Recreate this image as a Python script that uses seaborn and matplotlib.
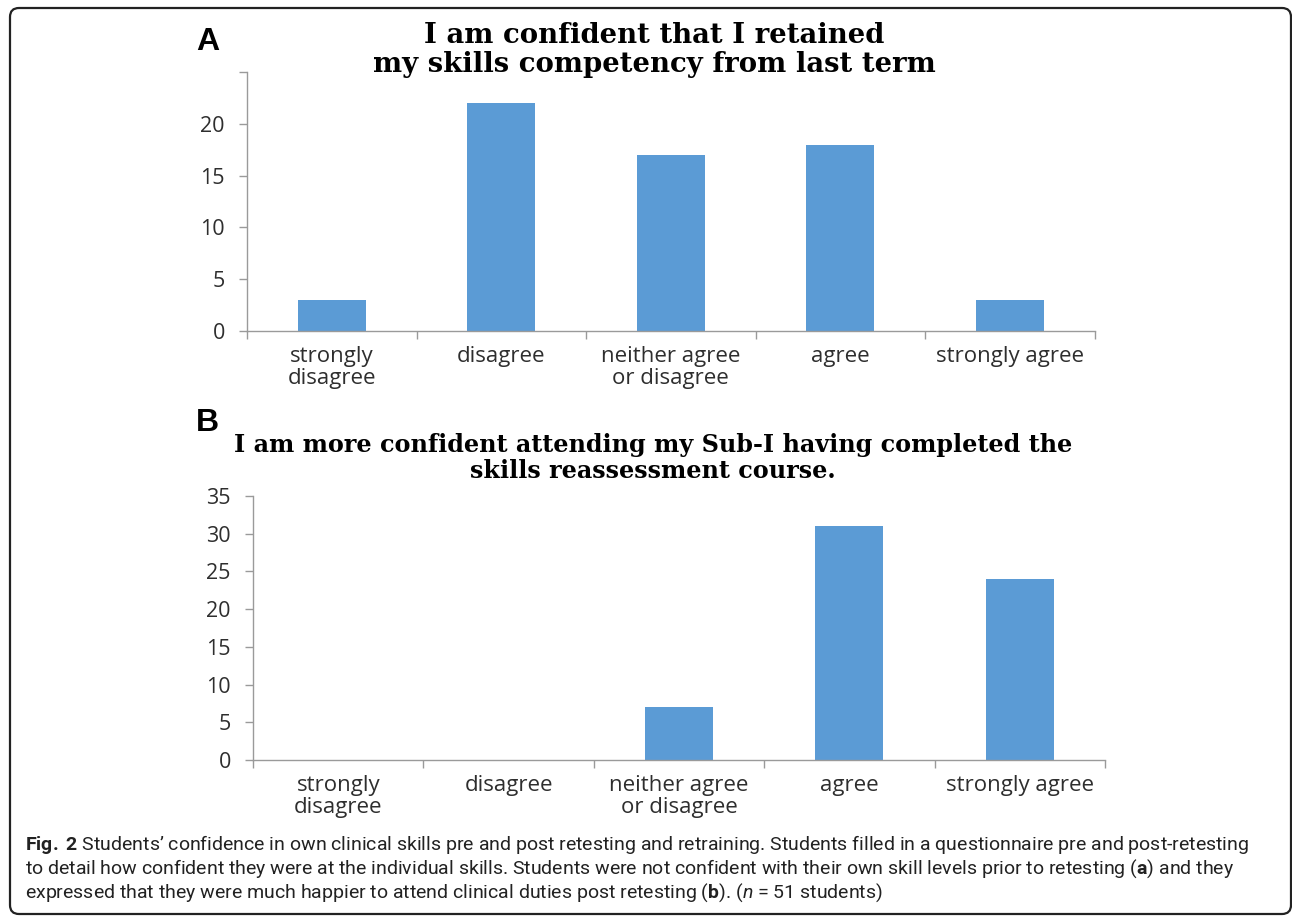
import matplotlib
matplotlib.use("Agg")
import matplotlib.pyplot as plt
import seaborn as sns
import pandas as pd
from matplotlib.patches import FancyBboxPatch

sns.set_theme(style="white")
plt.rcParams['font.family'] = ['Open Sans', 'DejaVu Sans']
plt.rcParams['mathtext.fontset'] = 'custom'
plt.rcParams['mathtext.rm'] = 'Roboto'
plt.rcParams['mathtext.bf'] = 'Roboto:bold'
plt.rcParams['mathtext.it'] = 'Roboto:italic'

# data
categories = ["strongly\ndisagree", "disagree", "neither agree\nor disagree", "agree", "strongly agree"]
retained_counts = [3, 22, 17, 18, 3]
sub_i_counts = [0, 0, 7, 31, 24]

retained_ticks = [0, 5, 10, 15, 20, 25]
retained_tick_labels = ["0", "5", "10", "15", "20", ""]
sub_i_ticks = [0, 5, 10, 15, 20, 25, 30, 35]
sub_i_tick_labels = ["0", "5", "10", "15", "20", "25", "30", "35"]

title_a = ["I am confident that I retained", "my skills competency from last term"]
title_b = ["I am more confident attending my Sub-I having completed the",
           "skills reassessment course."]
caption_lines = [
    r"$\mathbf{Fig.}$ $\mathbf{2}$ Students’ confidence in own clinical skills pre and post retesting and retraining. "
    r"Students filled in a questionnaire pre and post-retesting",
    r"to detail how confident they were at the individual skills. Students were not confident "
    r"with their own skill levels prior to retesting ($\mathbf{a}$) and they",
    r"expressed that they were much happier to attend clinical duties post retesting "
    r"($\mathbf{b}$). ($\mathit{n}$ = 51 students)",
]

BAR_COLOR = "#5B9BD5"
AXIS_COLOR = "#9a9a9a"
TEXT_COLOR = "#2e2e2e"
W, H = 1292, 917


def draw_panel(ax, counts, ticks, tick_labels):
    df = pd.DataFrame({"response": categories, "count": counts})
    sns.barplot(data=df, x="response", y="count", color=BAR_COLOR, width=0.4,
                saturation=1, linewidth=0, ax=ax)
    ax.set_xlim(-0.5, len(categories) - 0.5)
    ax.set_ylim(ticks[0], ticks[-1])
    ax.set_yticks(ticks)
    ax.set_yticklabels(tick_labels)
    ax.set_xticks([i - 0.5 for i in range(len(categories) + 1)], minor=True)
    ax.tick_params(axis="x", which="major", bottom=False, length=0, pad=11,
                   labelsize=16, labelcolor=TEXT_COLOR)
    ax.tick_params(axis="x", which="minor", bottom=True, length=6, width=1,
                   color=AXIS_COLOR, direction="out")
    ax.tick_params(axis="y", left=True, length=6, width=1, color=AXIS_COLOR,
                   pad=10, labelsize=15.5, labelcolor=TEXT_COLOR)
    for lab in ax.get_xticklabels():
        lab.set_linespacing(1.05)
    sns.despine(ax=ax)
    for side in ("left", "bottom"):
        ax.spines[side].set_color(AXIS_COLOR)
        ax.spines[side].set_linewidth(1)
    ax.set_xlabel("")
    ax.set_ylabel("")
    ax.set_facecolor("none")


def px_axes(fig, left, top, right, bottom):
    return fig.add_axes([left / W, 1 - bottom / H, (right - left) / W, (bottom - top) / H], zorder=2)


fig = plt.figure(figsize=(W / 100, H / 100), dpi=100)

# pixel-space layer for the frame, titles and caption
bg = fig.add_axes([0, 0, 1, 1], zorder=0)
bg.set_xlim(0, W)
bg.set_ylim(H, 0)
bg.axis("off")
bg.add_patch(FancyBboxPatch((10, 8), 1281, 906, boxstyle="round,pad=0,rounding_size=9",
                            fill=False, edgecolor="#222222", linewidth=1.6, clip_on=False))

ax_a = px_axes(fig, 247, 72, 1094.5, 331)
draw_panel(ax_a, retained_counts, retained_ticks, retained_tick_labels)
ax_b = px_axes(fig, 253, 496, 1105, 760)
draw_panel(ax_b, sub_i_counts, sub_i_ticks, sub_i_tick_labels)

title_font = dict(family="DejaVu Serif", weight="bold", color="black",
                  ha="center", va="baseline")
for line, y in zip(title_a, [43, 72]):
    bg.text(654, y, line, size=19.8, **title_font)
for line, y in zip(title_b, [452, 478]):
    bg.text(653, y, line, size=17.2, **title_font)

letter_font = dict(family="Liberation Sans", weight="bold", size=23, color="black",
                   ha="left", va="baseline")
bg.text(196, 50, "A", **letter_font)
bg.text(196, 431, "B", **letter_font)

for line, y in zip(caption_lines, [850, 874, 898]):
    bg.text(25, y, line, family="Roboto", size=14.0, color="#222222", ha="left", va="baseline")

fig.savefig("out.png", dpi=100)
